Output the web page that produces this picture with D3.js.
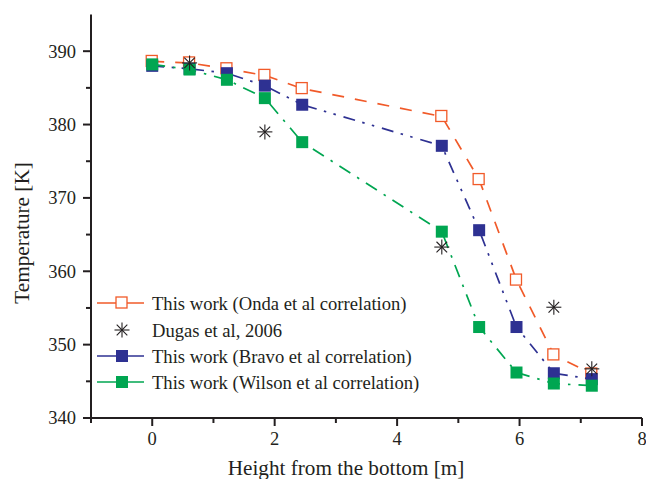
<!DOCTYPE html>
<html>
<head>
<meta charset="utf-8">
<script src="https://cdn.jsdelivr.net/npm/d3@7"></script>
<style>
  body { margin: 0; background: #fff; }
  svg text { font-family: "Liberation Serif", "Times New Roman", serif; fill: #231f20; }
</style>
</head>
<body>
<div id="chart"></div>
<script>
// data
const heights = [0, 0.61, 1.22, 1.84, 2.45, 4.73, 5.34, 5.95, 6.56, 7.18];
const onda = [388.6, 388.4, 387.6, 386.7, 384.9, 381.1, 372.5, 358.8, 348.6, 346.0];
const bravo = [388.0, 387.6, 387.0, 385.3, 382.7, 377.1, 365.6, 352.4, 346.1, 345.3];
const wilson = [388.2, 387.5, 386.1, 383.6, 377.6, 365.4, 352.4, 346.2, 344.7, 344.4];
const dugasX = [0.61, 1.84, 4.73, 6.56, 7.18];
const dugasY = [388.4, 379.0, 363.3, 355.1, 346.7];
const xTicks = [0, 2, 4, 6, 8];
const xMinor = [-1, 1, 3, 5, 7];
const yTicks = [340, 350, 360, 370, 380, 390];
const yMinor = [345, 355, 365, 375, 385];

const W = 646, H = 479;
const svg = d3.select("#chart").append("svg")
    .attr("width", W).attr("height", H);

const x = d3.scaleLinear().domain([-1, 8]).range([91, 642]);
const y = d3.scaleLinear().domain([340, 395]).range([418, 14.5]);

// series
const series = [
    { name: "This work (Onda et al correlation)", vals: onda, color: "#f15a29", dash: "12,11", open: true },
    { name: "This work (Bravo et al correlation)", vals: bravo, color: "#2e3192", dash: "12,7.5,2.5,7.5,2.5,8", open: false },
    { name: "This work (Wilson et al correlation)", vals: wilson, color: "#00a651", dash: "13,8,2.5,8", open: false }
];

const line = d3.line().x(d => x(d[0])).y(d => y(d[1]));
const sq = 12;

series.forEach(s => {
    const pts = heights.map((h, i) => [h, s.vals[i]]);
    svg.append("path")
        .datum(pts)
        .attr("d", line)
        .attr("fill", "none")
        .attr("stroke", s.color)
        .attr("stroke-width", 1.7)
        .attr("stroke-dasharray", s.dash);
    svg.selectAll(null)
        .data(pts)
        .enter()
        .append("rect")
        .attr("x", d => x(d[0]) - sq / 2)
        .attr("y", d => y(d[1]) - sq / 2)
        .attr("width", s.open ? sq - 1 : sq)
        .attr("height", s.open ? sq - 1 : sq)
        .attr("fill", s.open ? "#fff" : s.color)
        .attr("stroke", s.open ? s.color : "none")
        .attr("stroke-width", 1.3);
});

// star marker
function star(g, cx, cy, r) {
    for (let k = 0; k < 4; k++) {
        const a = k * Math.PI / 4;
        g.append("line")
            .attr("x1", cx - r * Math.cos(a)).attr("y1", cy - r * Math.sin(a))
            .attr("x2", cx + r * Math.cos(a)).attr("y2", cy + r * Math.sin(a))
            .attr("stroke", "#231f20").attr("stroke-width", 1.1);
    }
}
dugasX.forEach((h, i) => star(svg, x(h), y(dugasY[i]), 7.5));

// axes
const axisColor = "#231f20";
const gx = svg.append("g").attr("transform", `translate(0,${y(340)})`);
gx.append("line").attr("x1", x(-1)).attr("x2", x(8)).attr("stroke", axisColor).attr("stroke-width", 2);
gx.selectAll(".maj").data(xTicks).enter().append("line")
    .attr("x1", d => x(d)).attr("x2", d => x(d)).attr("y1", 0).attr("y2", 8)
    .attr("stroke", axisColor).attr("stroke-width", 2);
gx.selectAll(".min").data(xMinor).enter().append("line")
    .attr("x1", d => x(d)).attr("x2", d => x(d)).attr("y1", 0).attr("y2", 5)
    .attr("stroke", axisColor).attr("stroke-width", 2);
gx.selectAll(".lab").data(xTicks).enter().append("text")
    .attr("x", d => x(d)).attr("y", 27)
    .attr("text-anchor", "middle")
    .style("font-size", "18.5px")
    .text(d => d);

const gy = svg.append("g").attr("transform", `translate(${x(-1)},0)`);
gy.append("line").attr("y1", y(340)).attr("y2", y(395)).attr("stroke", axisColor).attr("stroke-width", 2);
gy.selectAll(".maj").data(yTicks).enter().append("line")
    .attr("y1", d => y(d)).attr("y2", d => y(d)).attr("x1", 0).attr("x2", -8)
    .attr("stroke", axisColor).attr("stroke-width", 2);
gy.selectAll(".min").data(yMinor).enter().append("line")
    .attr("y1", d => y(d)).attr("y2", d => y(d)).attr("x1", 0).attr("x2", -5)
    .attr("stroke", axisColor).attr("stroke-width", 2);
gy.selectAll(".lab").data(yTicks).enter().append("text")
    .attr("x", -15).attr("y", d => y(d))
    .attr("dy", "0.35em")
    .attr("text-anchor", "end")
    .style("font-size", "18.5px")
    .text(d => d);

// axis titles
svg.append("text")
    .attr("x", 346).attr("y", 475)
    .attr("text-anchor", "middle")
    .style("font-size", "21.2px")
    .text("Height from the bottom [m]");
svg.append("text")
    .attr("transform", "translate(29,233) rotate(-90)")
    .attr("text-anchor", "middle")
    .style("font-size", "21.2px")
    .text("Temperature [K]");

// legend
const legendRows = [
    { label: series[0].name, kind: "open", color: series[0].color },
    { label: "Dugas et al, 2006", kind: "star" },
    { label: series[1].name, kind: "fill", color: series[1].color },
    { label: series[2].name, kind: "fill", color: series[2].color }
];
const legY = [303, 330, 356, 382];
legendRows.forEach((r, i) => {
    const ly = legY[i];
    if (r.kind === "star") {
        star(svg, 122, ly, 7.5);
    } else {
        svg.append("line").attr("x1", 97).attr("x2", 144).attr("y1", ly).attr("y2", ly)
            .attr("stroke", r.color).attr("stroke-width", 1.7);
        svg.append("rect")
            .attr("x", 122 - sq / 2).attr("y", ly - sq / 2)
            .attr("width", r.kind === "open" ? sq - 1 : sq)
            .attr("height", r.kind === "open" ? sq - 1 : sq)
            .attr("fill", r.kind === "open" ? "#fff" : r.color)
            .attr("stroke", r.kind === "open" ? r.color : "none")
            .attr("stroke-width", 1.3);
    }
    svg.append("text")
        .attr("x", 152).attr("y", ly).attr("dy", "0.35em")
        .style("font-size", "18.6px")
        .text(r.label);
});
</script>
</body>
</html>
